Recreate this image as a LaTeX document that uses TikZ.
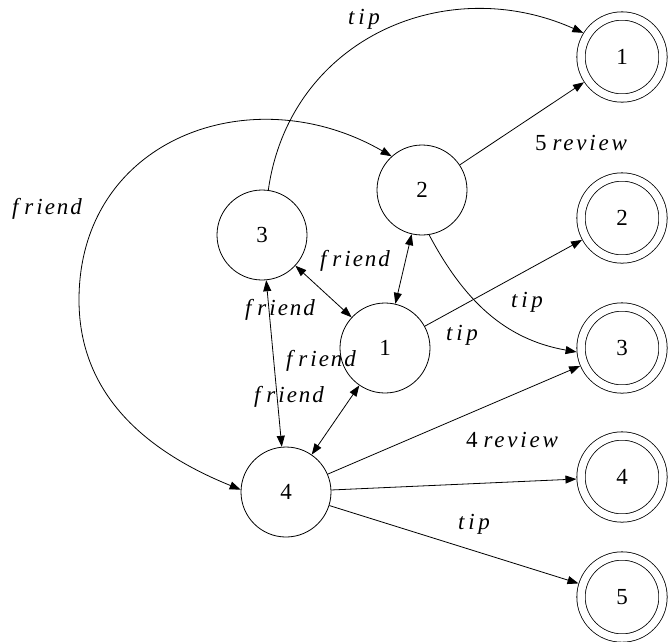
\documentclass[tikz,border=0pt]{standalone}
\usepackage{fontspec}
\setmainfont{Liberation Serif}
\newfontfamily\lblfont{Liberation Serif}[LetterSpace=12]
\usetikzlibrary{arrows.meta}
\newcommand\wFriend{\itshape f\kern6pt r\kern3pt i\kern2pt e\kern2pt n\kern2pt d}
\newcommand\wTip{\itshape t\kern4pt i\kern3.5pt p}
\newcommand\wReview{{\lblfont\itshape review}}
\tikzset{
  st/.style={circle,draw,line width=0.8pt,minimum size=90pt,inner sep=0pt,font=\fontsize{23}{23}\selectfont},
  fin/.style={circle,draw,line width=0.8pt,double,double distance=7.5pt,minimum size=82pt,inner sep=0pt,outer sep=4.6pt,font=\fontsize{23}{23}\selectfont},
  tipline/.style={line width=0.8pt,-{Triangle[length=11pt,width=8pt]}},
  biline/.style={line width=0.8pt,{Triangle[length=11pt,width=8pt]}-{Triangle[length=11pt,width=8pt]}},
  lbl/.style={inner sep=0pt,font=\fontsize{23}{23}\selectfont}
}
\begin{document}
\begin{tikzpicture}[x=1pt,y=-1pt]
\useasboundingbox (0,0) rectangle (671,641);
% states
\node[st] (s3) at (262,235) {3};
\node[st] (s2) at (422,190) {2};
\node[st] (s1) at (385,348) {1};
\node[st] (s4) at (286,492) {4};
\node[fin] (t1) at (622,57) {1};
\node[fin] (t2) at (622,218) {2};
\node[fin] (t3) at (622,348) {3};
\node[fin] (t4) at (622,477) {4};
\node[fin] (t5) at (622,597) {5};
\coordinate (cL) at (79,300);
% tip / review edges
\draw[tipline] (s3.82) to[out=82,in=156,looseness=1.1] (t1.148);
\draw[tipline] (s2) -- (t1);
\draw[tipline] (s2.-81) to[out=-62,in=170] (t3.185);
\draw[tipline] (s1) -- (t2);
\draw[tipline] (s4) -- (t3);
\draw[tipline] (s4) -- (t4);
\draw[tipline] (s4) -- (t5);
% friend edges
\draw[biline] (s3) -- (s1);
\draw[biline] (s2) -- (s1);
\draw[biline] (s3) -- (s4);
\draw[biline] (s1) -- (s4);
\draw[biline] (s4.177) to[out=158,in=-90] (cL) to[out=90,in=150,looseness=1.2] (s2.132);
% labels
\node[lbl] (l1) at (364,19) {\wTip};
\node[lbl] (l2) at (581,143) {5\hspace{6pt}\wReview};
\node[lbl] (l3) at (355,261) {\wFriend};
\node[lbl] (l4) at (280,310) {\wFriend};
\node[lbl] (l5) at (321,361) {\wFriend};
\node[lbl] (l6) at (289,397) {\wFriend};
\node[lbl] (l7) at (527,302) {\wTip};
\node[lbl] (l8) at (462,335) {\wTip};
\node[lbl] (l9) at (512,440) {4\hspace{6pt}\wReview};
\node[lbl] (l10) at (474,524) {\wTip};
\node[lbl] (l11) at (47,209) {\wFriend};
\end{tikzpicture}
\end{document}
